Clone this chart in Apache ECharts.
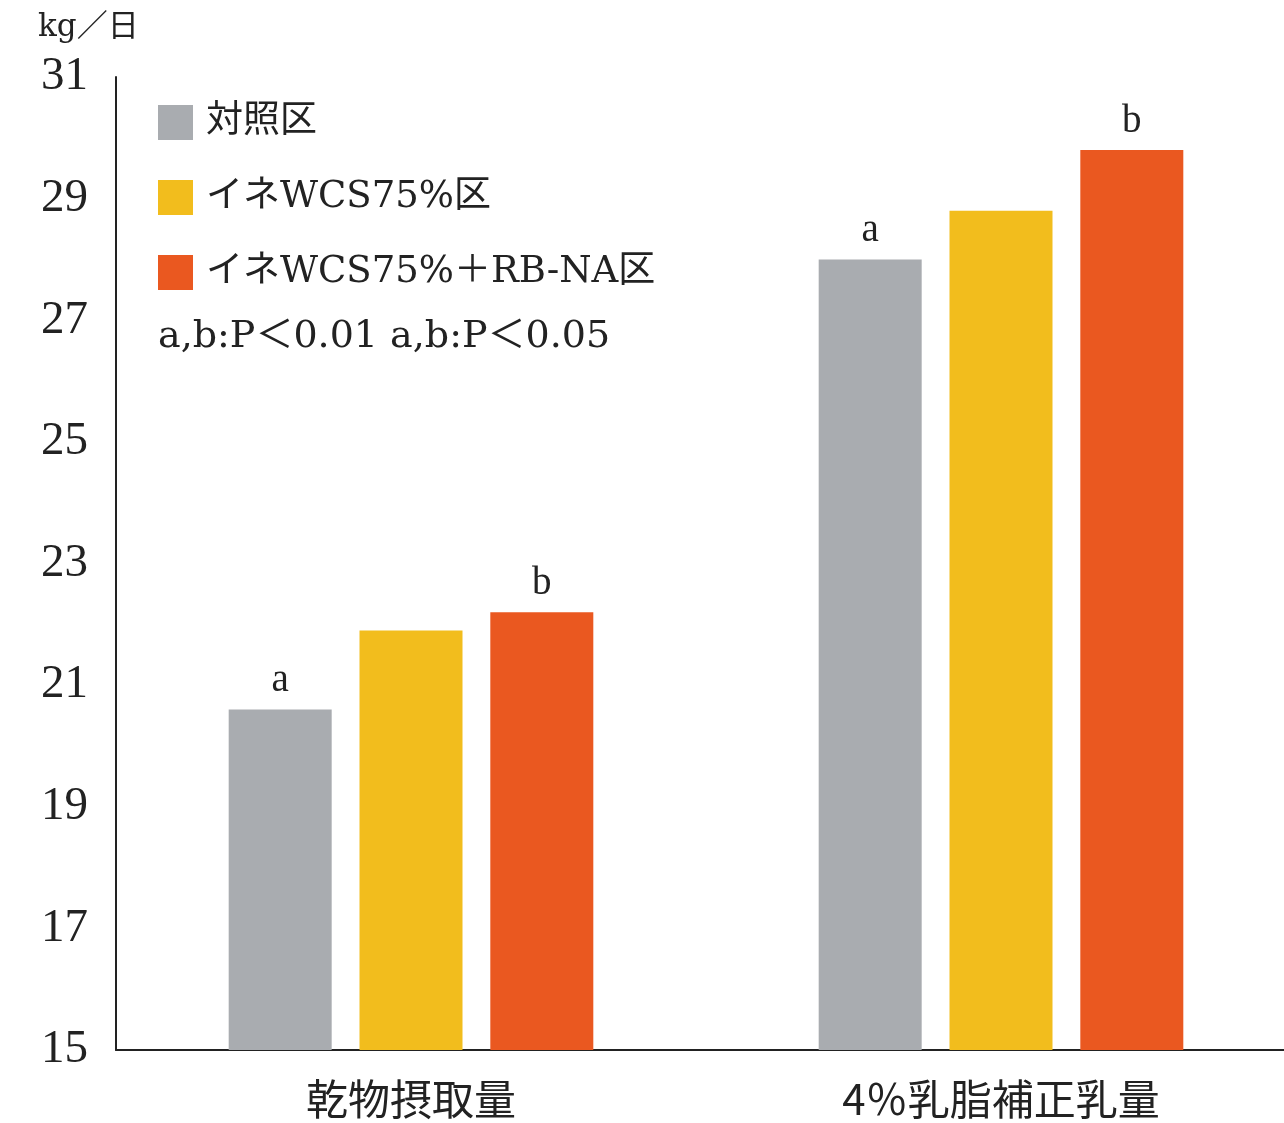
<!DOCTYPE html>
<html>
<head>
<meta charset="utf-8">
<style>
  html, body { margin: 0; padding: 0; background: #ffffff; }
  #chart { width: 1284px; height: 1123px; }
</style>
<script src="https://cdn.jsdelivr.net/npm/echarts@6/dist/echarts.min.js"></script>
</head>
<body>
<div id="chart"></div>
<script>
// Daily dry matter intake and 4% FCM yield by treatment (kg/day)
const categories = ['乾物摂取量', '4％乳脂補正乳量'];
const seriesNames = ['対照区', 'イネWCS75%区', 'イネWCS75%＋RB-NA区'];
const controlValues = [20.6, 28.0];
const wcsValues = [21.9, 28.8];
const wcsRbValues = [22.2, 29.8];
// significance letters above each bar
const controlSig = ['a', 'a'];
const wcsSig = ['', ''];
const wcsRbSig = ['b', 'b'];
const yTicks = [15, 17, 19, 21, 23, 25, 27, 29, 31];
const unitLabel = 'kg／日';
const noteText = 'a,b:P＜0.01 a,b:P＜0.05';

const colors = ['#a9acb0', '#f2bd1d', '#ea5820'];
const serif = "'Liberation Serif', 'DejaVu Serif', 'Noto Sans CJK JP', serif";
const wideSerif = "'DejaVu Serif', 'Noto Sans CJK JP', serif";

function makeSeries(name, values, sig, color) {
  return {
    name: name,
    type: 'bar',
    data: values,
    barWidth: 103,
    barGap: '27%',
    itemStyle: { color: color },
    label: {
      show: true,
      position: 'top',
      distance: 9,
      fontFamily: serif,
      fontSize: 39,
      color: '#222',
      formatter: function (p) { return sig[p.dataIndex]; }
    }
  };
}

const chart = echarts.init(document.getElementById('chart'));
chart.setOption({
  animation: false,
  backgroundColor: '#ffffff',
  grid: {
    left: 116,
    right: -12,
    top: 77,
    bottom: 73,
    containLabel: false,
    outerBoundsMode: 'none'
  },
  legend: {
    orient: 'vertical',
    left: 158,
    top: 104,
    padding: 0,
    itemWidth: 35,
    itemHeight: 35,
    itemGap: 38,
    icon: 'rect',
    data: seriesNames,
    textStyle: {
      fontFamily: wideSerif,
      fontSize: 37,
      color: '#222',
      padding: [0, 0, 0, 8]
    }
  },
  xAxis: {
    type: 'category',
    data: categories,
    axisLine: { lineStyle: { color: '#222', width: 2 } },
    axisTick: { show: false },
    axisLabel: {
      margin: 28,
      fontFamily: "'Noto Sans CJK JP', sans-serif",
      fontSize: 42,
      color: '#222'
    }
  },
  yAxis: {
    type: 'value',
    min: yTicks[0],
    max: yTicks[yTicks.length - 1],
    interval: yTicks[1] - yTicks[0],
    axisLine: { show: true, lineStyle: { color: '#222', width: 2 } },
    axisTick: { show: false },
    splitLine: { show: false },
    axisLabel: {
      margin: 28,
      fontFamily: serif,
      fontSize: 47,
      color: '#222'
    }
  },
  graphic: [
    {
      type: 'text',
      left: 38,
      top: 12,
      style: { text: unitLabel, font: "31px " + wideSerif, fill: '#222' }
    },
    {
      type: 'text',
      left: 158,
      top: 318,
      style: { text: noteText, font: "38px " + wideSerif, fill: '#222' }
    }
  ],
  series: [
    makeSeries(seriesNames[0], controlValues, controlSig, colors[0]),
    makeSeries(seriesNames[1], wcsValues, wcsSig, colors[1]),
    makeSeries(seriesNames[2], wcsRbValues, wcsRbSig, colors[2])
  ]
});
</script>
</body>
</html>
